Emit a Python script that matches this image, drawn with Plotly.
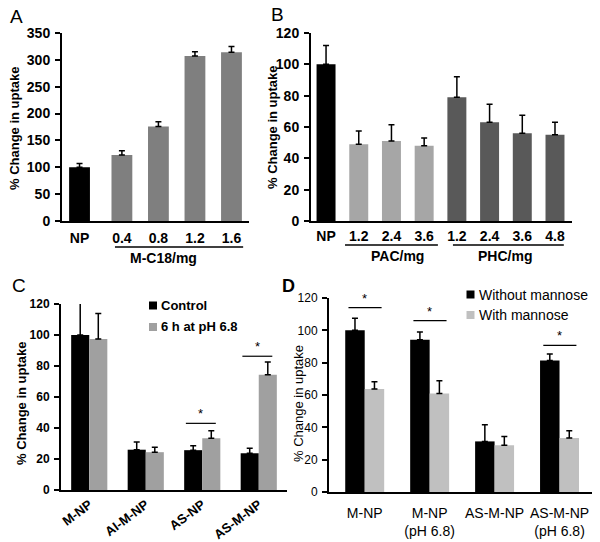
import plotly.graph_objects as go

FONT = "Liberation Sans, Arial, sans-serif"
W, H = 600, 542

# ---- Panel A: M-C18 dose ----
a_labels = ["NP", "0.4", "0.8", "1.2", "1.6"]
a_vals = [100, 123, 176, 307, 314]
a_err = [7, 8, 9, 8, 11]

# ---- Panel B: PAC / PHC dose ----
b_labels = ["NP", "1.2", "2.4", "3.6", "1.2", "2.4", "3.6", "4.8"]
b_groups = ["NP", "PAC", "PAC", "PAC", "PHC", "PHC", "PHC", "PHC"]
b_vals = [100, 49, 51, 48, 79, 63, 56, 55]
b_err = [12, 8.5, 10.5, 5, 13, 11.5, 11.5, 8]

# ---- Panel C: pH 6.8 pre-treatment ----
c_cats = ["M-NP", "AI-M-NP", "AS-NP", "AS-M-NP"]
c_control = [100, 26, 25.7, 23.7]
c_control_err = [22, 5, 2.8, 3.2]
c_ph = [97.5, 24.4, 33.4, 74.4]
c_ph_err = [16.4, 3.2, 4.8, 8.2]
c_sig_idx = [2, 3]
c_sig_y = [43, 86.3]

# ---- Panel D: mannose competition ----
d_cats = ["M-NP", "M-NP<br>(pH 6.8)", "AS-M-NP", "AS-M-NP<br>(pH 6.8)"]
d_without = [100, 94.2, 31.3, 81.4]
d_without_err = [7.5, 4.8, 10.3, 4]
d_with = [63.7, 61, 28.9, 33.4]
d_with_err = [4.5, 7.8, 5.4, 4.5]
d_sig_idx = [0, 1, 3]
d_sig_y = [114, 106, 90.7]

group_colors = {"NP": "#000000", "PAC": "#a6a6a6", "PHC": "#595959"}


def px_x(p):
    return p / W


def px_y(p):
    return (H - p) / H


def err(vals):
    return dict(type="data", array=vals, arrayminus=[0] * len(vals), symmetric=False,
                color="black", thickness=1.5, width=3)


fig = go.Figure()

# A
a_x = [0] + [i + 0.16 for i in range(1, len(a_labels))]
fig.add_trace(go.Bar(x=a_x, y=a_vals, width=0.57, error_y=err(a_err),
                     marker=dict(color=["#000000"] + ["#7f7f7f"] * 4, line_width=0),
                     xaxis="x", yaxis="y"))
# B
fig.add_trace(go.Bar(x=list(range(len(b_vals))), y=b_vals, width=0.58, error_y=err(b_err),
                     marker=dict(color=[group_colors[g] for g in b_groups], line_width=0),
                     xaxis="x2", yaxis="y2"))
# C
c_x = list(range(len(c_cats)))
fig.add_trace(go.Bar(x=c_x, y=c_control, offset=-0.32, width=0.32, error_y=err(c_control_err),
                     marker=dict(color="#000000", line_width=0), xaxis="x3", yaxis="y3"))
fig.add_trace(go.Bar(x=c_x, y=c_ph, offset=0.0, width=0.32, error_y=err(c_ph_err),
                     marker=dict(color="#a0a0a0", line_width=0), xaxis="x3", yaxis="y3"))
# D
d_x = list(range(len(d_cats)))
fig.add_trace(go.Bar(x=d_x, y=d_without, offset=-0.3, width=0.3, error_y=err(d_without_err),
                     marker=dict(color="#000000", line_width=0), xaxis="x4", yaxis="y4"))
fig.add_trace(go.Bar(x=d_x, y=d_with, offset=0.0, width=0.3, error_y=err(d_with_err),
                     marker=dict(color="#c0c0c0", line_width=0), xaxis="x4", yaxis="y4"))

bold = dict(family=FONT, size=13, color="black", weight="bold")
plain = dict(family=FONT, size=13, color="black")

yax = dict(showline=True, linecolor="black", linewidth=2, showgrid=False, zeroline=False,
           ticks="outside", ticklen=5, tickwidth=1.5, tickcolor="black", ticklabelstandoff=2,
           automargin=False)
xax = dict(showline=True, linecolor="black", linewidth=2, showgrid=False, zeroline=False,
           ticks="", automargin=False)

fig.update_layout(
    width=W, height=H, margin=dict(l=0, r=0, t=0, b=0, autoexpand=False),
    paper_bgcolor="white", plot_bgcolor="white", barmode="overlay", showlegend=False,
    font=dict(family=FONT, color="black"),
    xaxis=dict(xax, domain=[px_x(62), px_x(249)], range=[-0.48, 4.64], anchor="y",
               tickvals=a_x, ticktext=a_labels, tickfont=dict(bold, size=14),
               ticklabelstandoff=3),
    yaxis=dict(yax, domain=[px_y(221), px_y(33)], range=[0, 350], dtick=50, anchor="x",
               tickfont=dict(bold, size=14)),
    xaxis2=dict(xax, domain=[px_x(311), px_x(572)], range=[-0.46, 7.52], anchor="y2",
                tickvals=list(range(len(b_labels))), ticktext=b_labels,
                tickfont=dict(bold, size=14), ticklabelstandoff=1),
    yaxis2=dict(yax, domain=[px_y(221), px_y(33)], range=[0, 120], dtick=20, anchor="x2",
                tickfont=dict(bold, size=14)),
    xaxis3=dict(xax, domain=[px_x(61), px_x(287)], range=[-0.5, 3.5], anchor="y3",
                tickvals=c_x, ticktext=c_cats, tickfont=bold, tickangle=-37),
    yaxis3=dict(yax, domain=[px_y(490), px_y(304)], range=[0, 120], dtick=20, anchor="x3",
                tickfont=dict(bold, size=12)),
    xaxis4=dict(xax, domain=[px_x(329), px_x(592)], range=[-0.55, 3.5], anchor="y4",
                tickvals=d_x, ticktext=d_cats, tickfont=dict(plain, size=14),
                ticklabelstandoff=7),
    yaxis4=dict(yax, domain=[px_y(492), px_y(298)], range=[0, 120], dtick=20, anchor="x4",
                tickfont=dict(plain, size=12)),
)

shapes = []
ann = []


def note(text, x, y, font, xref="paper", yref="paper", **kw):
    d = dict(text=text, xref=xref, yref=yref, x=x, y=y, showarrow=False, font=font,
             xanchor="center", yanchor="middle")
    d.update(kw)
    ann.append(d)


# group underlines and labels (A, B)
shapes.append(dict(type="line", xref="x", yref="paper", x0=0.97, x1=4.48,
                   y0=px_y(247), y1=px_y(247), line=dict(color="black", width=1.5)))
note("M-C18/mg", 2.31, px_y(258), dict(bold, size=14), xref="x")
for x0, x1, lab, xc in [(0.58, 3.42, "PAC/mg", 2.17), (3.88, 7.27, "PHC/mg", 5.47)]:
    shapes.append(dict(type="line", xref="x2", yref="paper", x0=x0, x1=x1,
                       y0=px_y(245), y1=px_y(245), line=dict(color="black", width=1.5)))
    note(lab, xc, px_y(256), dict(bold, size=14), xref="x2")

# significance bars
for i, yv in zip(c_sig_idx, c_sig_y):
    shapes.append(dict(type="line", xref="x3", yref="y3", x0=i - 0.29, x1=i + 0.24,
                       y0=yv, y1=yv, line=dict(color="black", width=1.2)))
    note("*", i - 0.03, yv, dict(plain, size=13), xref="x3", yref="y3", yanchor="bottom")
for i, yv in zip(d_sig_idx, d_sig_y):
    shapes.append(dict(type="line", xref="x4", yref="y4", x0=i - 0.25, x1=i + 0.26,
                       y0=yv, y1=yv, line=dict(color="black", width=1.2)))
    note("*", i, yv, dict(plain, size=13), xref="x4", yref="y4", yanchor="bottom")

# manual legends
for (cx, cy, col, lab, f) in [(153, 305.5, "#000000", "Control", bold),
                              (153, 327, "#a0a0a0", "6 h at pH 6.8", bold),
                              (470.5, 294.5, "#000000", "Without mannose", dict(plain, size=14)),
                              (470.5, 315, "#c0c0c0", "With mannose", dict(plain, size=14))]:
    shapes.append(dict(type="rect", xref="paper", yref="paper", x0=px_x(cx - 4), x1=px_x(cx + 4),
                       y0=px_y(cy + 4), y1=px_y(cy - 4), fillcolor=col, line_width=0))
    note(lab, px_x(cx + 6), px_y(cy), f, xanchor="left")

# y titles
for (cx, cy, f) in [(14, 128, bold), (272, 127, bold), (21, 403, bold), (298, 404, plain)]:
    note("% Change in uptake", px_x(cx), px_y(cy), f, textangle=-90)

# panel letters
for (cx, cy, lab, f) in [(16, 16, "A", dict(plain, size=19)), (277, 15, "B", dict(plain, size=19)),
                         (19, 285, "C", dict(plain, size=19)), (288, 286, "D", dict(bold, size=18))]:
    note(lab, px_x(cx), px_y(cy), f)

fig.update_layout(shapes=shapes, annotations=ann)
fig.write_html("out.html", config={"displayModeBar": False},
               post_script="document.body.style.margin='0';")
